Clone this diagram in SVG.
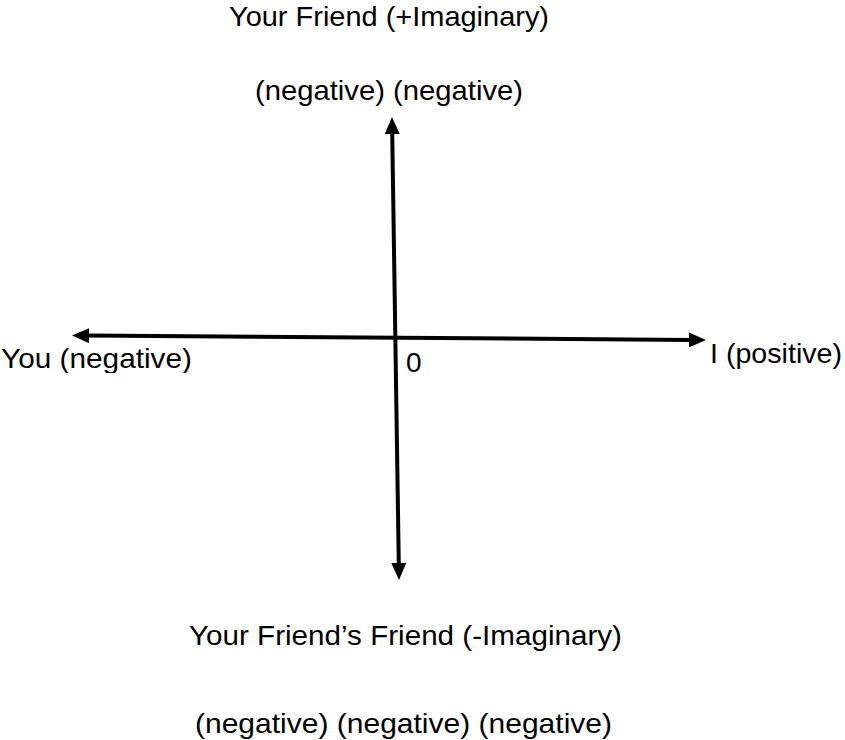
<svg xmlns="http://www.w3.org/2000/svg" width="845" height="740" viewBox="0 0 845 740">
  <style>
    .t { font-family: "Liberation Sans", Arial, sans-serif; font-size: 28px; fill: #000; }
    .ax { stroke: #000; stroke-width: 4; fill: none; stroke-linecap: butt; }
  </style>
  <defs>
    <marker id="arr" viewBox="0 0 17 15" markerWidth="17" markerHeight="15" refX="2" refY="7.5" orient="auto-start-reverse" markerUnits="userSpaceOnUse">
      <path d="M0,0 L17,7.5 L0,15 z" fill="#000"/>
    </marker>
    <clipPath id="clipYou">
      <rect x="0" y="330" width="230" height="43"/>
    </clipPath>
  </defs>
  <g id="connectors">
    <line id="real-axis" class="ax" x1="87" y1="335.6" x2="691" y2="339.9" marker-start="url(#arr)" marker-end="url(#arr)"/>
    <line id="imag-axis" class="ax" x1="392.2" y1="132" x2="398.8" y2="565" marker-start="url(#arr)" marker-end="url(#arr)"/>
  </g>
  <g id="friend">
    <text class="t" x="229" y="26" textLength="320" lengthAdjust="spacingAndGlyphs">Your Friend (+Imaginary)</text>
    <text class="t" x="255" y="100" textLength="268" lengthAdjust="spacingAndGlyphs">(negative) (negative)</text>
  </g>
  <g id="you">
    <text class="t" x="1" y="368" textLength="191" lengthAdjust="spacingAndGlyphs" clip-path="url(#clipYou)">You (negative)</text>
  </g>
  <g id="origin">
    <text class="t" x="406" y="372">0</text>
  </g>
  <g id="i-positive">
    <text class="t" x="710" y="363" textLength="132" lengthAdjust="spacingAndGlyphs">I (positive)</text>
  </g>
  <g id="friends-friend">
    <text class="t" x="189" y="645" textLength="433" lengthAdjust="spacingAndGlyphs">Your Friend’s Friend (-Imaginary)</text>
    <text class="t" x="195" y="733" textLength="417" lengthAdjust="spacingAndGlyphs">(negative) (negative) (negative)</text>
  </g>
</svg>
